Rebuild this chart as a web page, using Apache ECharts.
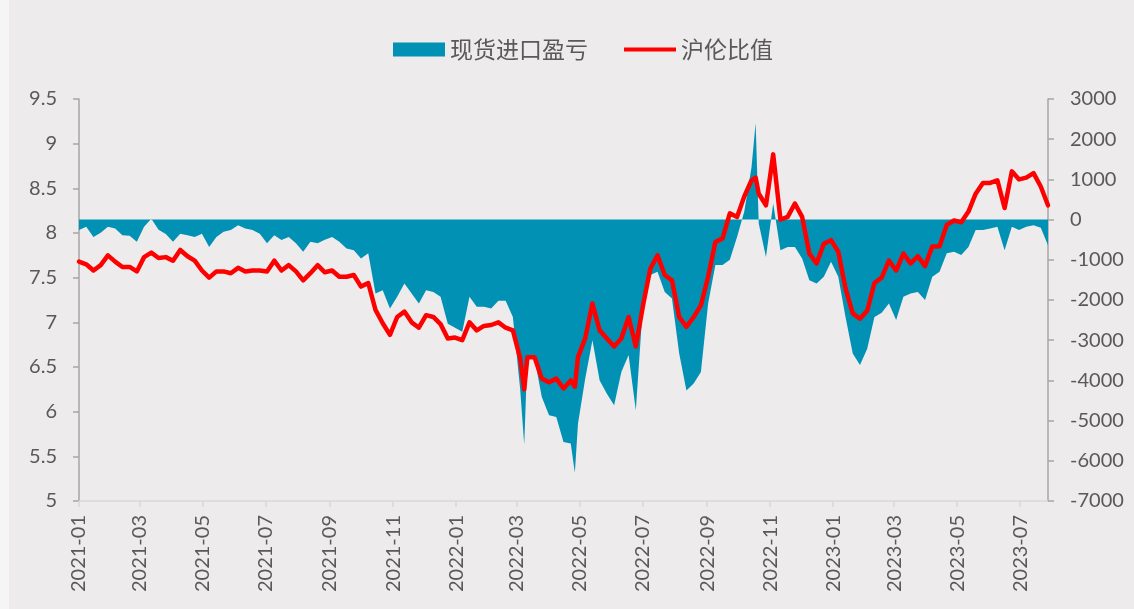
<!DOCTYPE html>
<html>
<head>
<meta charset="utf-8">
<title>沪伦比值与现货进口盈亏</title>
<script src="https://cdn.jsdelivr.net/npm/echarts@6.0.0/dist/echarts.min.js"></script>
<style>
  html, body { margin: 0; padding: 0; background: #edebeb; }
  #chart { width: 1134px; height: 609px; }
</style>
</head>
<body>
<div id="chart"></div>
<script>
// weekly samples (plus a few extra days for the sharp spikes)
const dates = [
  "2021-01-01", "2021-01-08", "2021-01-15", "2021-01-22", "2021-01-29", "2021-02-05", "2021-02-12", "2021-02-19", "2021-02-26",
  "2021-03-05", "2021-03-12", "2021-03-19", "2021-03-26", "2021-04-02", "2021-04-09", "2021-04-16", "2021-04-23", "2021-04-30",
  "2021-05-07", "2021-05-14", "2021-05-21", "2021-05-28", "2021-06-04", "2021-06-11", "2021-06-18", "2021-06-25",
  "2021-07-02", "2021-07-09", "2021-07-16", "2021-07-23", "2021-07-30", "2021-08-06", "2021-08-13", "2021-08-20", "2021-08-27",
  "2021-09-03", "2021-09-10", "2021-09-17", "2021-09-24", "2021-10-01", "2021-10-08", "2021-10-15", "2021-10-22", "2021-10-29",
  "2021-11-05", "2021-11-12", "2021-11-19", "2021-11-26", "2021-12-03", "2021-12-10", "2021-12-17", "2021-12-24", "2021-12-31",
  "2022-01-07", "2022-01-14", "2022-01-21", "2022-01-28", "2022-02-04", "2022-02-11", "2022-02-18", "2022-02-25",
  "2022-03-04", "2022-03-08", "2022-03-11", "2022-03-18", "2022-03-25", "2022-04-01", "2022-04-08", "2022-04-15", "2022-04-22",
  "2022-04-26", "2022-04-29", "2022-05-06", "2022-05-13", "2022-05-20", "2022-05-27", "2022-06-03", "2022-06-10", "2022-06-17",
  "2022-06-24", "2022-07-01", "2022-07-08", "2022-07-15", "2022-07-22", "2022-07-29", "2022-08-05", "2022-08-12", "2022-08-19",
  "2022-08-26", "2022-09-02", "2022-09-09", "2022-09-16", "2022-09-23", "2022-09-30", "2022-10-07", "2022-10-14", "2022-10-18",
  "2022-10-21", "2022-10-28", "2022-11-04", "2022-11-11", "2022-11-18", "2022-11-25", "2022-12-02", "2022-12-09", "2022-12-16",
  "2022-12-23", "2022-12-30", "2023-01-06", "2023-01-13", "2023-01-20", "2023-01-27", "2023-02-03", "2023-02-10", "2023-02-17",
  "2023-02-24", "2023-03-03", "2023-03-10", "2023-03-17", "2023-03-24", "2023-03-31", "2023-04-07", "2023-04-14", "2023-04-21",
  "2023-04-28", "2023-05-05", "2023-05-12", "2023-05-19", "2023-05-26", "2023-06-02", "2023-06-09", "2023-06-16", "2023-06-23",
  "2023-06-30", "2023-07-07", "2023-07-14", "2023-07-21", "2023-07-28"
];

// 沪伦比值 (left axis)
const ratio = [
  7.68, 7.65, 7.58, 7.64, 7.75, 7.68, 7.62, 7.62, 7.57,
  7.73, 7.78, 7.72, 7.73, 7.69, 7.81, 7.74, 7.69, 7.58,
  7.50, 7.57, 7.57, 7.55, 7.61, 7.57, 7.58, 7.58,
  7.57, 7.69, 7.58, 7.64, 7.57, 7.47, 7.55, 7.64, 7.56,
  7.58, 7.51, 7.51, 7.53, 7.40, 7.44, 7.14, 6.99, 6.86,
  7.06, 7.12, 7.00, 6.94, 7.08, 7.06, 6.98, 6.82, 6.83,
  6.80, 7.00, 6.91, 6.96, 6.97, 7.00, 6.94, 6.91,
  6.60, 6.25, 6.61, 6.61, 6.37, 6.33, 6.37, 6.26, 6.35,
  6.28, 6.61, 6.82, 7.21, 6.91, 6.82, 6.73, 6.82, 7.06,
  6.73, 7.19, 7.60, 7.75, 7.53, 7.47, 7.06, 6.95, 7.06,
  7.19, 7.51, 7.90, 7.94, 8.22, 8.18, 8.41, 8.59, 8.62,
  8.44, 8.31, 8.88, 8.15, 8.18, 8.33, 8.18, 7.77, 7.66,
  7.88, 7.92, 7.79, 7.38, 7.10, 7.04, 7.13, 7.44, 7.50,
  7.69, 7.58, 7.77, 7.66, 7.74, 7.63, 7.85, 7.85, 8.09,
  8.14, 8.12, 8.24, 8.44, 8.56, 8.56, 8.59, 8.28, 8.69,
  8.60, 8.62, 8.67, 8.52, 8.31
];

// 现货进口盈亏 (right axis)
const profit = [
  -260, -180, -430, -330, -180, -220, -390, -400, -550,
  -180, 20, -250, -360, -550, -350, -390, -430, -350,
  -680, -430, -300, -260, -140, -220, -260, -350,
  -590, -390, -510, -430, -590, -800, -550, -590, -500,
  -430, -550, -720, -760, -970, -840, -1840, -1760, -2210,
  -1920, -1590, -1840, -2090, -1760, -1800, -1920, -2590, -2690,
  -2790, -1920, -2170, -2170, -2210, -2020, -2020, -2420,
  -4200, -5600, -3420, -3460, -4410, -4870, -4910, -5530, -5570,
  -6300, -5080, -3960, -3000, -4000, -4330, -4620, -3790, -3370,
  -4740, -2090, -1380, -1300, -1800, -1960, -3330, -4250, -4080,
  -3790, -2090, -1130, -1130, -1000, -430, 200, 1300, 2400,
  -100, -930, 400, -760, -680, -680, -970, -1510, -1590,
  -1420, -1050, -1420, -2420, -3330, -3620, -3210, -2420, -2320,
  -2090, -2500, -1920, -1840, -1800, -2000, -1420, -1300, -840,
  -800, -880, -680, -260, -260, -220, -180, -760, -180,
  -260, -180, -140, -200, -640
];

const tickLabels = [
  "2021-01", "2021-03", "2021-05", "2021-07", "2021-09", "2021-11",
  "2022-01", "2022-03", "2022-05", "2022-07", "2022-09", "2022-11",
  "2023-01", "2023-03", "2023-05", "2023-07"
];

function toTime(s) {
  const p = s.split("-").map(Number);
  return new Date(p[0], p[1] - 1, p[2] || 1).getTime();
}

const tickValues = tickLabels.map(toTime);
const ratioData = dates.map((d, i) => [toTime(d), ratio[i]]);
const profitData = dates.map((d, i) => [toTime(d), profit[i]]);

const labelStyle = { fontSize: 20, color: "#595959", fontFamily: "Lato" };
const axisGray = { color: "#a6a6a6", width: 1.5 };

const chart = echarts.init(document.getElementById("chart"));
chart.setOption({
  backgroundColor: "#edebeb",
  animation: false,
  graphic: [
    // lighter strip at the very left edge
    { type: "rect", left: 0, top: 0, shape: { width: 9, height: 609 }, style: { fill: "#f5f5f5" } },
  ],
  legend: {
    left: 388,
    top: 33,
    itemWidth: 52,
    itemHeight: 14,
    itemGap: 36,
    textStyle: { fontSize: 23, color: "#595959", fontFamily: "Noto Sans CJK SC" },
    data: [
      { name: "现货进口盈亏", icon: "rect" },
      { name: "沪伦比值", icon: "path://M0,0H52V4H0Z" },
    ],
  },
  grid: { left: 79, right: 86, top: 99, bottom: 108 },
  xAxis: {
    // timestamps on a value axis so the ticks can sit on every other month start
    type: "value",
    min: toTime("2021-01-01"),
    max: toTime("2023-07-28"),
    axisLine: { show: true, onZero: false, lineStyle: { color: "#d9d9d9", width: 1.5 } },
    axisTick: { show: true, length: 6, customValues: tickValues, lineStyle: { color: "#d9d9d9", width: 1.5 } },
    splitLine: { show: false },
    axisLabel: {
      ...labelStyle,
      rotate: 90,
      margin: 14,
      customValues: tickValues,
      formatter: (v) => {
        const d = new Date(v);
        return d.getFullYear() + "-" + String(d.getMonth() + 1).padStart(2, "0");
      },
    },
  },
  yAxis: [
    {
      type: "value",
      min: 5,
      max: 9.5,
      interval: 0.5,
      axisLine: { show: true, lineStyle: axisGray },
      axisTick: { show: true, length: 6, lineStyle: axisGray },
      splitLine: { show: false },
      axisLabel: { ...labelStyle, margin: 22 },
    },
    {
      type: "value",
      min: -7000,
      max: 3000,
      interval: 1000,
      axisLine: { show: true, lineStyle: axisGray },
      axisTick: { show: true, length: 6, lineStyle: axisGray },
      splitLine: { show: false },
      axisLabel: { ...labelStyle, margin: 22, formatter: (v) => String(v) },
    },
  ],
  series: [
    {
      name: "现货进口盈亏",
      type: "line",
      yAxisIndex: 1,
      data: profitData,
      symbol: "none",
      lineStyle: { width: 0 },
      itemStyle: { color: "#0091b5" },
      areaStyle: { color: "#0091b5", opacity: 1 },
      z: 1,
    },
    {
      name: "沪伦比值",
      type: "line",
      yAxisIndex: 0,
      data: ratioData,
      symbol: "none",
      itemStyle: { color: "#ff0000" },
      lineStyle: { color: "#ff0000", width: 4.5, join: "round", cap: "round" },
      z: 2,
    },
  ],
});
</script>
</body>
</html>
